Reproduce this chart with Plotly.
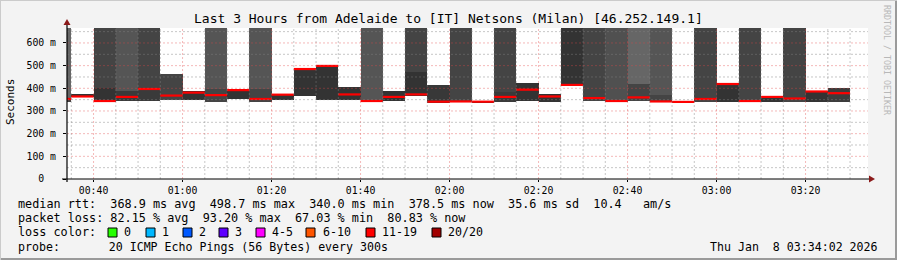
import plotly.graph_objects as go

# ---------------- data ----------------
interval_start = ["00:30", "00:35", "00:40", "00:45", "00:50", "00:55",
                  "01:00", "01:05", "01:10", "01:15", "01:20", "01:25",
                  "01:30", "01:35", "01:40", "01:45", "01:50", "01:55",
                  "02:00", "02:05", "02:10", "02:15", "02:20", "02:25",
                  "02:30", "02:35", "02:40", "02:45", "02:50", "02:55",
                  "03:00", "03:05", "03:10", "03:15", "03:20", "03:25"]
median_ms = [353, 364, 344, 362, 397, 368,
             381, 370, 392, 353, 372, 485,
             498.7, 373, 344, 362, 373, 341,
             342, 341, 362, 394, 364, 415,
             357, 344, 360, 342, 340.0, 353,
             419, 344, 362, 355, 386, 378.5]
smoke_lo = [340, 360, 340, 345, 345, 348,
            350, 341, 353, 341, 350, 366,
            348, 348, 340, 344, 364, 337,
            340, 338, 341, 344, 341, 415,
            348, 342, 342, 340, 338, 342,
            341, 342, 341, 342, 338, 338]
core_hi = [345, 375, 400, 390, 397, 463,
           390, 397, 396, 397, 375, 488,
           503, 407, 345, 390, 473, 415,
           345, 346, 385, 422, 375, 420,
           355, 345, 419, 371, 342, 350,
           423, 345, 363, 350, 390, 403]
outer_hi = [700, None, 700, 700, 700, None,
            None, 700, None, 700, None, None,
            None, None, 700, None, 700, None,
            700, None, 700, None, None, 700,
            700, 700, 700, 700, None, 700,
            None, 700, None, 700, None, None]
outer_shade = ["#666666", None, "#444444", "#555555", "#444444", None,
               None, "#555555", None, "#555555", None, None,
               None, None, "#555555", None, "#444444", None,
               "#444444", None, "#444444", None, None, "#333333",
               "#444444", "#505050", "#666666", "#555555", None, "#444444",
               None, "#444444", None, "#444444", None, None]
core_shade = ["#444444", "#333333", "#333333", "#3a3a3a", "#3a3a3a", "#444444",
              "#333333", "#444444", "#333333", "#444444", "#333333", "#333333",
              "#333333", "#333333", "#444444", "#333333", "#333333", "#383838",
              "#444444", "#333333", "#3a3a3a", "#333333", "#333333", "#333333",
              "#444444", "#505050", "#444444", "#444444", "#333333", "#444444",
              "#333333", "#444444", "#333333", "#444444", "#333333", "#3c3c3c"]

y_tick_vals = [0, 100, 200, 300, 400, 500, 600]
y_tick_text = ["0\u00a0\u00a0", "100\u00a0m", "200\u00a0m", "300\u00a0m",
               "400\u00a0m", "500\u00a0m", "600\u00a0m"]
y_minor_vals = [50, 150, 250, 350, 450, 550, 650]
x_major_ticks = ["00:40", "01:00", "01:20", "01:40", "02:00", "02:20",
                 "02:40", "03:00", "03:20"]

title_text = "Last 3 Hours from Adelaide to [IT] Netsons (Milan) [46.252.149.1]"
line_median = "median rtt:  368.9 ms avg  498.7 ms max  340.0 ms min  378.5 ms now  35.6 ms sd  10.4   am/s"
line_loss = "packet loss: 82.15 % avg  93.20 % max  67.03 % min  80.83 % now"
line_probe = "probe:       20 ICMP Echo Pings (56 Bytes) every 300s"
date_text = "Thu Jan  8 03:34:02 2026"
loss_labels = ["0", "1", "2", "3", "4-5", "6-10", "11-19", "20/20"]
loss_colors = ["#26ff00", "#00b8ff", "#0059ff", "#5e00ff", "#ff00ff",
               "#ff5500", "#ff0000", "#a10000"]

DAY = "2026-01-08 "
X_START = DAY + "00:34:02"
X_END = DAY + "03:34:02"
STEP_MS = 300000

# ---------------- geometry helpers ----------------
W, H = 897, 260
L, R, T, B = 67, 29, 28, 81
PW, PH = W - L - R, H - T - B


def px(xp):
    return (xp - L) / PW


def py(yp):
    return (H - B - yp) / PH


def t_full(hm):
    return DAY + hm + ":00"


def t_add(hm, minutes):
    h, m = map(int, hm.split(":"))
    tot = h * 60 + m + minutes
    return DAY + "%02d:%02d:00" % (tot // 60, tot % 60)


MONO = "DejaVu Sans Mono"

fig = go.Figure()

# outer smoke
ox, oy, ob, oc = [], [], [], []
for s, hi, top, col in zip(interval_start, core_hi, outer_hi, outer_shade):
    if top is not None:
        ox.append(t_full(s)); ob.append(hi); oy.append(top - hi); oc.append(col)
fig.add_trace(go.Bar(x=ox, y=oy, base=ob, width=STEP_MS, offset=0,
                     marker=dict(color=oc, line=dict(width=0)),
                     hoverinfo="skip", showlegend=False))

# core smoke
fig.add_trace(go.Bar(x=[t_full(s) for s in interval_start],
                     y=[h - l for h, l in zip(core_hi, smoke_lo)],
                     base=smoke_lo, width=STEP_MS, offset=0,
                     marker=dict(color=core_shade, line=dict(width=0)),
                     hoverinfo="skip", showlegend=False))

# median segments
mx, my = [], []
for s, m in zip(interval_start, median_ms):
    mx += [t_full(s), t_add(s, 5), None]
    my += [m, m, None]
fig.add_trace(go.Scatter(x=mx, y=my, mode="lines",
                         line=dict(color="#ff0000", width=2.2),
                         hoverinfo="skip", showlegend=False))

shapes = []
# grid (drawn above smoke like rrdtool)
minor_grid = "rgba(130,130,130,0.45)"
major_grid = "rgba(225,70,70,0.38)"
tot = 35
while tot <= 3 * 60 + 30:
    hm = "%02d:%02d" % (tot // 60, tot % 60)
    col = major_grid if hm in x_major_ticks else minor_grid
    shapes.append(dict(type="line", xref="x", yref="paper", x0=t_full(hm), x1=t_full(hm),
                       y0=0, y1=1, line=dict(color=col, width=1, dash="2px,2px"), layer="above"))
    tot += 5
for v in y_tick_vals[1:]:
    shapes.append(dict(type="line", xref="paper", yref="y", x0=0, x1=1, y0=v, y1=v,
                       line=dict(color=major_grid, width=1, dash="2px,2px"), layer="above"))
for v in y_minor_vals:
    shapes.append(dict(type="line", xref="paper", yref="y", x0=0, x1=1, y0=v, y1=v,
                       line=dict(color=minor_grid, width=1, dash="2px,2px"), layer="above"))

# axes lines and arrows
shapes.append(dict(type="line", xref="paper", yref="paper", x0=px(62), x1=px(869),
                   y0=py(179), y1=py(179), line=dict(color="#000000", width=1.2), layer="above"))
shapes.append(dict(type="line", xref="paper", yref="paper", x0=px(67), x1=px(67),
                   y0=py(182), y1=py(24), line=dict(color="#000000", width=1.2), layer="above"))
shapes.append(dict(type="path", xref="paper", yref="paper", layer="above",
                   path="M %f %f L %f %f L %f %f Z" % (px(869), py(175.5), px(875), py(179), px(869), py(182.5)),
                   fillcolor="#8b1a1a", line=dict(width=0)))
shapes.append(dict(type="path", xref="paper", yref="paper", layer="above",
                   path="M %f %f L %f %f L %f %f Z" % (px(63.5), py(25), px(67), py(19), px(70.5), py(25)),
                   fillcolor="#8b1a1a", line=dict(width=0)))

# frame shading
shapes.append(dict(type="rect", xref="paper", yref="paper", x0=px(0), x1=px(897),
                   y0=py(258), y1=py(260), fillcolor="#9a9a9a", line=dict(width=0)))
shapes.append(dict(type="rect", xref="paper", yref="paper", x0=px(895), x1=px(897),
                   y0=py(0), y1=py(260), fillcolor="#9a9a9a", line=dict(width=0)))
shapes.append(dict(type="rect", xref="paper", yref="paper", x0=px(0), x1=px(897),
                   y0=py(0), y1=py(1), fillcolor="#cbcbcb", line=dict(width=0)))
shapes.append(dict(type="rect", xref="paper", yref="paper", x0=px(0), x1=px(1),
                   y0=py(0), y1=py(260), fillcolor="#cbcbcb", line=dict(width=0)))

# loss colour boxes
box_x = [108, 146, 183, 219, 256, 306, 366, 432]
label_x = [122, 160, 197, 233, 270, 321, 380, 446]
for bx, c in zip(box_x, loss_colors):
    shapes.append(dict(type="rect", xref="paper", yref="paper", x0=px(bx), x1=px(bx + 9),
                       y0=py(237), y1=py(228), fillcolor=c, line=dict(color="#000000", width=1)))

ann = []


def text(x, y, s, size, xanchor="left", color="#000000", angle=0):
    ann.append(dict(x=px(x), y=py(y), xref="paper", yref="paper", text=s.replace(" ", "\u00a0"),
                    showarrow=False, xanchor=xanchor, yanchor="middle", textangle=angle,
                    font=dict(family=MONO, size=size, color=color)))


text(448, 19, title_text, 13, xanchor="center")
text(11, 102, "Seconds", 11, xanchor="center", angle=-90)
text(16, 204, line_median, 11.8)
text(16, 218, line_loss, 11.8)
text(16, 232, "loss color:", 11.8)
for lx, lab in zip(label_x, loss_labels):
    text(lx, 232, lab, 11.6)
text(16, 246.5, line_probe, 11.6)
text(880, 246.5, date_text, 11.6, xanchor="right")
text(887, 60, "RRDTOOL / TOBI OETIKER", 8.3, xanchor="center", color="#b8b8b8", angle=90)

fig.update_layout(
    width=W, height=H,
    margin=dict(l=L, r=R, t=T, b=B, pad=0),
    paper_bgcolor="#f3f3f3", plot_bgcolor="#ffffff",
    barmode="overlay", bargap=0,
    showlegend=False,
    shapes=shapes, annotations=ann,
    xaxis=dict(type="date", range=[X_START, X_END], showgrid=False, zeroline=False,
               tick0=DAY + "00:40:00", dtick=1200000, tickformat="%H:%M",
               ticks="outside", ticklen=2, tickcolor="#000000",
               tickfont=dict(family=MONO, size=9.8, color="#000000"),
               showline=False, fixedrange=True),
    yaxis=dict(range=[0, 666], showgrid=False, zeroline=False,
               tickvals=y_tick_vals, ticktext=y_tick_text,
               ticks="outside", ticklen=3, tickcolor="#000000",
               ticklabelstandoff=5,
               tickfont=dict(family=MONO, size=9.8, color="#000000"),
               showline=False, fixedrange=True),
)

fig.write_html("out.html")
